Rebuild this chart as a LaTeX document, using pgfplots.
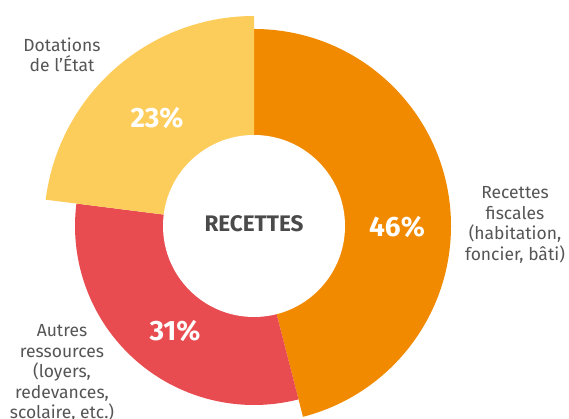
\documentclass[border=0pt]{standalone}
\usepackage{pgfplots}
\usepackage{pgfplotstable}
\pgfplotsset{compat=1.18}
\usepackage{fontspec}
\setmainfont{Fira Sans}
\definecolor{cOrange}{HTML}{F28A00}
\definecolor{cRed}{HTML}{E84C50}
\definecolor{cYellow}{HTML}{FDCD5C}
\definecolor{cText}{HTML}{555555}
\definecolor{cTitle}{HTML}{4A4A4A}
% value (%), outer radius (px)
\pgfplotstableread{
name value radius
fiscales 46 197
autres 31 179
dotations 23 210
}\recettes
\begin{document}
\begin{tikzpicture}
\begin{axis}[
  x=1pt, y=1pt, scale only axis,
  xmin=0, xmax=569, ymin=0, ymax=419,
  hide axis, clip=false,
]
\pgfplotstablegetelem{0}{value}\of\recettes \edef\va{\pgfplotsretval}
\pgfplotstablegetelem{1}{value}\of\recettes \edef\vb{\pgfplotsretval}
\pgfplotstablegetelem{2}{value}\of\recettes \edef\vc{\pgfplotsretval}
\pgfplotstablegetelem{0}{radius}\of\recettes \edef\ra{\pgfplotsretval}
\pgfplotstablegetelem{1}{radius}\of\recettes \edef\rb{\pgfplotsretval}
\pgfplotstablegetelem{2}{radius}\of\recettes \edef\rc{\pgfplotsretval}
\pgfmathsetmacro{\aA}{90}
\pgfmathsetmacro{\aB}{90-3.6*\va}
\pgfmathsetmacro{\aC}{\aB-3.6*\vb}
\pgfmathsetmacro{\aD}{\aC-3.6*\vc}
\def\cx{254}\def\cy{193}
\fill[cOrange] (axis cs:\cx,\cy) -- (axis cs:{\cx+\ra*cos(\aA)},{\cy+\ra*sin(\aA)})
  arc[start angle=\aA, end angle=\aB, radius=\ra] -- cycle;
\fill[cRed] (axis cs:\cx,\cy) -- (axis cs:{\cx+\rb*cos(\aB)},{\cy+\rb*sin(\aB)})
  arc[start angle=\aB, end angle=\aC, radius=\rb] -- cycle;
\fill[cYellow] (axis cs:\cx,\cy) -- (axis cs:{\cx+\rc*cos(\aC)},{\cy+\rc*sin(\aC)})
  arc[start angle=\aC, end angle=\aD, radius=\rc] -- cycle;
\fill[white] (axis cs:\cx,\cy) circle[radius=91];
% centre title
\node[text=cTitle, font=\fontsize{22.5}{25}\selectfont\bfseries] at (axis cs:254,195) {RECETTES};
% percentages
\node[text=white, font=\fontsize{28}{30}\selectfont\bfseries] at (axis cs:397,192) {46\%};
\node[text=white, font=\fontsize{28}{30}\selectfont\bfseries] at (axis cs:175,88) {31\%};
\node[text=white, font=\fontsize{28}{30}\selectfont\bfseries] at (axis cs:157,301) {23\%};
% category labels
\node[text=cText, align=center, font=\fontsize{17.5}{20.5}\selectfont] at (axis cs:62,364) {Dotations\\de l'État};
\node[text=cText, align=center, font=\fontsize{17.5}{20.5}\selectfont] at (axis cs:515,194) {Recettes\\fiscales\\(habitation,\\foncier, bâti)};
\node[text=cText, align=center, font=\fontsize{17.5}{20.5}\selectfont, anchor=north] at (axis cs:62,98) {Autres\\ressources\\(loyers,\\redevances,\\scolaire, etc.)};
\end{axis}
\pgfresetboundingbox
\path (current axis.south west) rectangle (current axis.north east);
\end{tikzpicture}
\end{document}
